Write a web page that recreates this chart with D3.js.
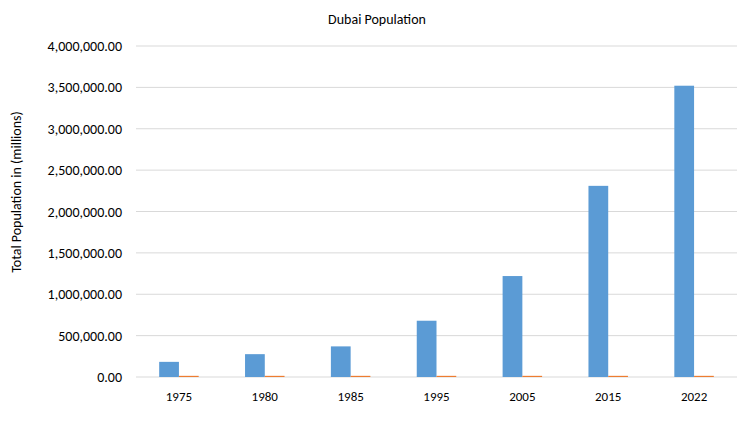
<!DOCTYPE html>
<html><head><meta charset="utf-8">
<script src="https://cdn.jsdelivr.net/npm/d3@7"></script>
<style>body{margin:0;background:#fff}text{font-family:Calibri,Carlito,"Liberation Sans",Arial,sans-serif}</style>
</head><body><svg id="c" width="755" height="423"></svg>
<script>
const categories=["1975","1980","1985","1995","2005","2015","2022"];
const population=[183000,276000,370000,680000,1220000,2310000,3520000];
const yearSeries=[1975,1980,1985,1995,2005,2015,2022];
const yTicks=[0,500000,1000000,1500000,2000000,2500000,3000000,3500000,4000000];

const svg=d3.select("#c");
const m={l:136,r:737,t:46,b:377};
const x=d3.scaleBand().domain(categories).range([m.l,m.r]).paddingInner(0.54).paddingOuter(0.27);
const y=d3.scaleLinear().domain([0,4000000]).range([m.b,m.t]);
const fmt=d3.format(",.2f");

svg.append("g").selectAll("line").data(yTicks).join("line")
 .attr("x1",m.l).attr("x2",m.r).attr("y1",d=>y(d)).attr("y2",d=>y(d))
 .attr("stroke","#d9d9d9").attr("stroke-width",1);
svg.append("g").selectAll("text").data(yTicks).join("text")
 .attr("x",122).attr("y",d=>y(d)+5).attr("text-anchor","end")
 .attr("font-size",14).attr("fill","#000").text(d=>fmt(d));

const bw=x.bandwidth()/2;
svg.append("g").selectAll("rect").data(categories).join("rect")
 .attr("x",d=>x(d)).attr("width",bw)
 .attr("y",(d,i)=>y(population[i])).attr("height",(d,i)=>y(0)-y(population[i]))
 .attr("fill","#5b9bd5");
svg.append("g").selectAll("rect").data(categories).join("rect")
 .attr("x",d=>x(d)+bw).attr("width",bw)
 .attr("y",(d,i)=>y(yearSeries[i])-1).attr("height",(d,i)=>y(0)-y(yearSeries[i])+1)
 .attr("fill","#ed7d31");

svg.append("g").selectAll("text").data(categories).join("text")
 .attr("x",d=>x(d)+x.bandwidth()/2).attr("y",401).attr("text-anchor","middle")
 .attr("font-size",13).text(d=>d);

svg.append("text").attr("x",377).attr("y",24).attr("text-anchor","middle").attr("font-size",14).text("Dubai Population");
svg.append("text").attr("transform","translate(21,192) rotate(-90)").attr("text-anchor","middle").attr("font-size",14).text("Total Population in (millions)");
</script></body></html>
